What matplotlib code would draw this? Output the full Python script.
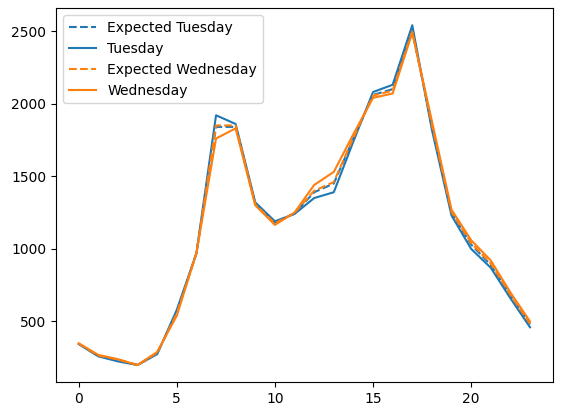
import matplotlib
matplotlib.use("Agg")
import matplotlib.pyplot as plt

hours = list(range(24))
tuesday = [345, 260, 225, 200, 275, 580, 970, 1920, 1860, 1320, 1190, 1240,
           1350, 1390, 1740, 2080, 2130, 2540, 1820, 1230, 1000, 870, 660, 460]
wednesday = [350, 270, 240, 200, 290, 540, 970, 1760, 1830, 1300, 1165, 1250,
             1440, 1530, 1790, 2040, 2070, 2490, 1880, 1270, 1060, 920, 700, 500]
exp_tuesday = [345, 262, 235, 200, 280, 560, 970, 1840, 1840, 1310, 1180, 1245,
               1390, 1450, 1760, 2060, 2100, 2500, 1850, 1250, 1030, 890, 680, 480]
exp_wednesday = [348, 265, 238, 200, 285, 555, 970, 1850, 1850, 1305, 1175, 1248,
                 1400, 1460, 1765, 2055, 2090, 2495, 1855, 1255, 1040, 900, 685, 485]

fig, ax = plt.subplots(figsize=(5.61, 4.13), dpi=100)
ax.plot(hours, exp_tuesday, "--", color="tab:blue", label="Expected Tuesday")
ax.plot(hours, tuesday, color="tab:blue", label="Tuesday")
ax.plot(hours, exp_wednesday, "--", color="tab:orange", label="Expected Wednesday")
ax.plot(hours, wednesday, color="tab:orange", label="Wednesday")
ax.legend(loc="upper left")
fig.subplots_adjust(left=0.1, right=0.985, top=0.98, bottom=0.075)
fig.savefig("out.png", dpi=100)
